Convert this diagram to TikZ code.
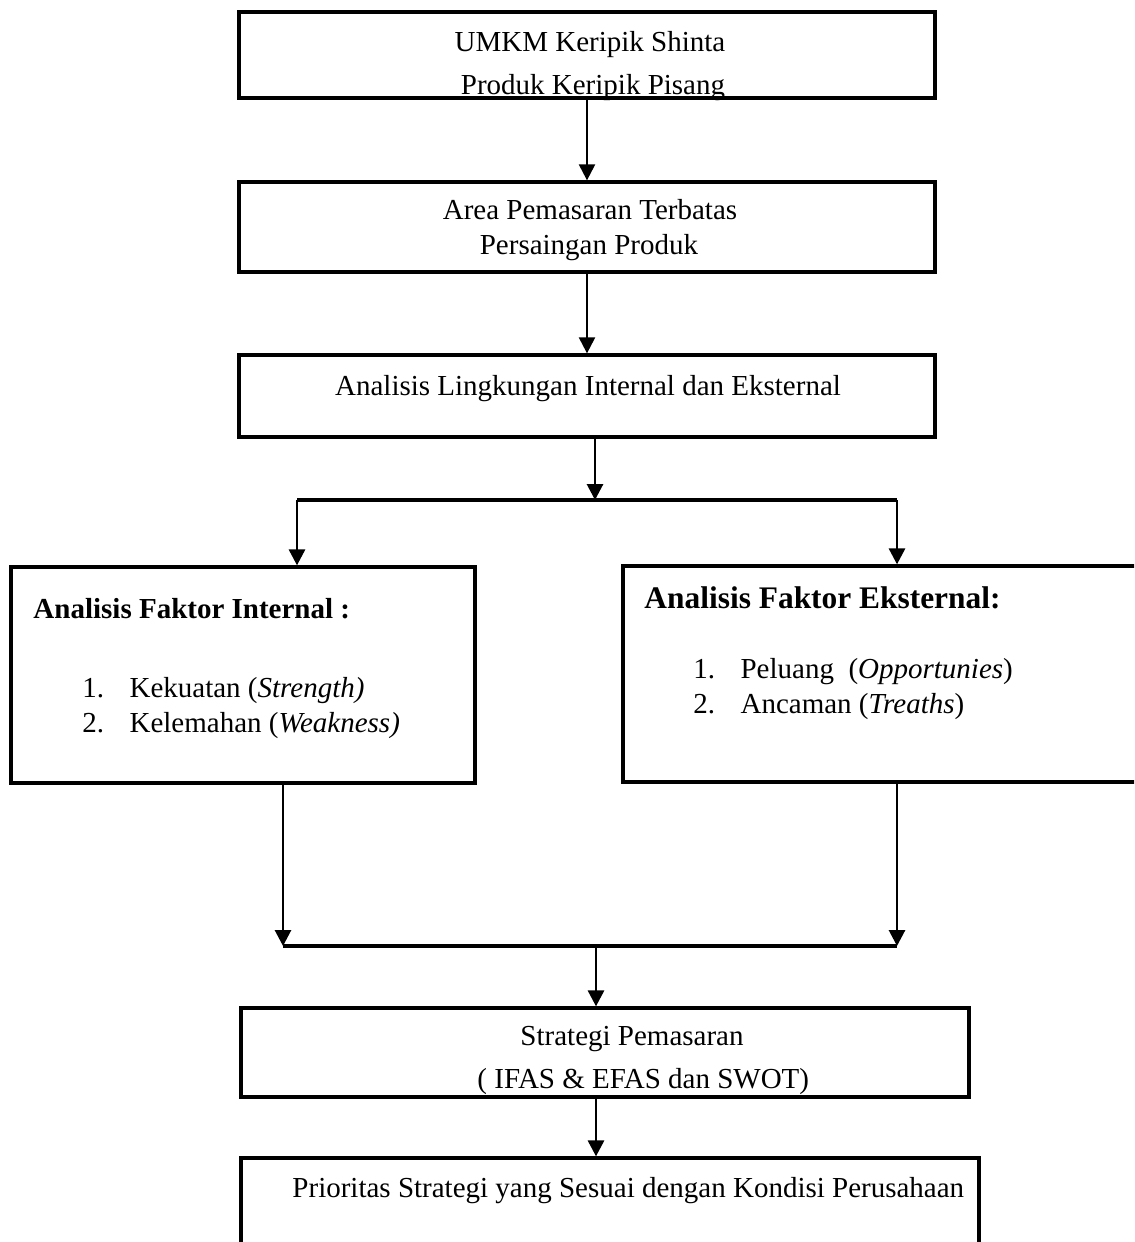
\documentclass[tikz,border=0pt]{standalone}
\usepackage{fontspec}
\setmainfont{Liberation Serif}
\usetikzlibrary{arrows.meta}

\newcommand{\satuan}{0.4138pt}

\tikzset{
    kotak/.style={draw, line width=1.35pt, inner sep=0pt},
    teks/.style={inner sep=0pt, anchor=base},
    tekskiri/.style={inner sep=0pt, anchor=base west},
    panah/.style={-{Triangle[length=6.6pt,width=6.6pt]}, line width=1.2pt},
    panahtipis/.style={-{Triangle[length=6.6pt,width=6.6pt]}, line width=0.9pt},
    garis/.style={line width=1.4pt},
}

\begin{document}
\fontsize{12}{14.4}\selectfont
\begin{tikzpicture}[x=\satuan, y=-\satuan]
    \path[use as bounding box] (0,0) rectangle (1134,1242);
    \clip (0,0) rectangle (1134,1242);

    % kotak-kotak utama
    \node[kotak, minimum width=696*\satuan, minimum height=86*\satuan] (umkm) at (587,55) {};
    \node[kotak, minimum width=696*\satuan, minimum height=90*\satuan] (area) at (587,227) {};
    \node[kotak, minimum width=696*\satuan, minimum height=82*\satuan] (ling) at (587,396) {};
    \node[kotak, minimum width=464*\satuan, minimum height=216*\satuan] (internal) at (243,675) {};
    \node[kotak, minimum width=527*\satuan, minimum height=216*\satuan] (eksternal) at (886.5,674) {};
    \node[kotak, minimum width=728*\satuan, minimum height=89*\satuan] (strategi) at (605,1052.5) {};
    \node[kotak, minimum width=738*\satuan, minimum height=102*\satuan] (prioritas) at (610,1209) {};

    % isi kotak
    \node[teks] (t-umkm) at (590,52) {UMKM Keripik Shinta};
    \node[teks] (t-produk) at (593,95) {Produk Keripik Pisang};
    \node[teks] (t-area) at (590,220) {Area Pemasaran Terbatas};
    \node[teks] (t-saing) at (589,255) {Persaingan Produk};
    \node[teks] (t-ling) at (588,395) {Analisis Lingkungan Internal dan Eksternal};

    \node[tekskiri] (t-int) at (33,618) {\bfseries Analisis Faktor Internal :};
    \node[tekskiri] (t-kuat) at (82,697) {\makebox[19.5pt][l]{1.}Kekuatan (\textit{Strength)}};
    \node[tekskiri] (t-lemah) at (82,732) {\makebox[19.5pt][l]{2.}Kelemahan (\textit{Weakness)}};

    \node[tekskiri] (t-eks) at (644,608) {\fontsize{13}{15.6}\selectfont\bfseries Analisis Faktor Eksternal:};
    \node[tekskiri] (t-peluang) at (693,678) {\makebox[19.5pt][l]{1.}Peluang\ \ (\textit{Opportunies})};
    \node[tekskiri] (t-ancam) at (693,713) {\makebox[19.5pt][l]{2.}Ancaman (\textit{Treaths})};

    \node[tekskiri] (t-strat) at (520,1045) {Strategi Pemasaran};
    \node[tekskiri] (t-ifas) at (477,1088) {( IFAS \& EFAS dan SWOT)};
    \node[tekskiri] (t-prior) at (292,1197) {Prioritas Strategi yang Sesuai dengan Kondisi Perusahaan};

    % panah atas
    \draw[panahtipis] (umkm.south) -- (umkm.south |- area.north);
    \draw[panahtipis] (area.south) -- (area.south |- ling.north);

    % percabangan ke faktor internal dan eksternal
    \coordinate (cab-t) at (595,500);
    \coordinate (cab-ki) at (297,500);
    \coordinate (cab-ka) at (897,500);
    \draw[panah] (ling.south -| cab-t) -- (cab-t);
    \draw[garis] (cab-ki) -- (cab-ka);
    \draw[panah] (cab-ki) -- (cab-ki |- internal.north);
    \draw[panah] (cab-ka) -- (cab-ka |- eksternal.north);

    % penggabungan ke strategi
    \coordinate (gab-t) at (596,946);
    \coordinate (gab-ki) at (283,946);
    \coordinate (gab-ka) at (897,946);
    \draw[panah] (internal.south -| gab-ki) -- (gab-ki);
    \draw[panah] (eksternal.south -| gab-ka) -- (gab-ka);
    \draw[garis] (gab-ki) -- (gab-ka);
    \draw[panah] (gab-t) -- (gab-t |- strategi.north);
    \draw[panah] (strategi.south -| gab-t) -- (gab-t |- prioritas.north);
\end{tikzpicture}
\end{document}
